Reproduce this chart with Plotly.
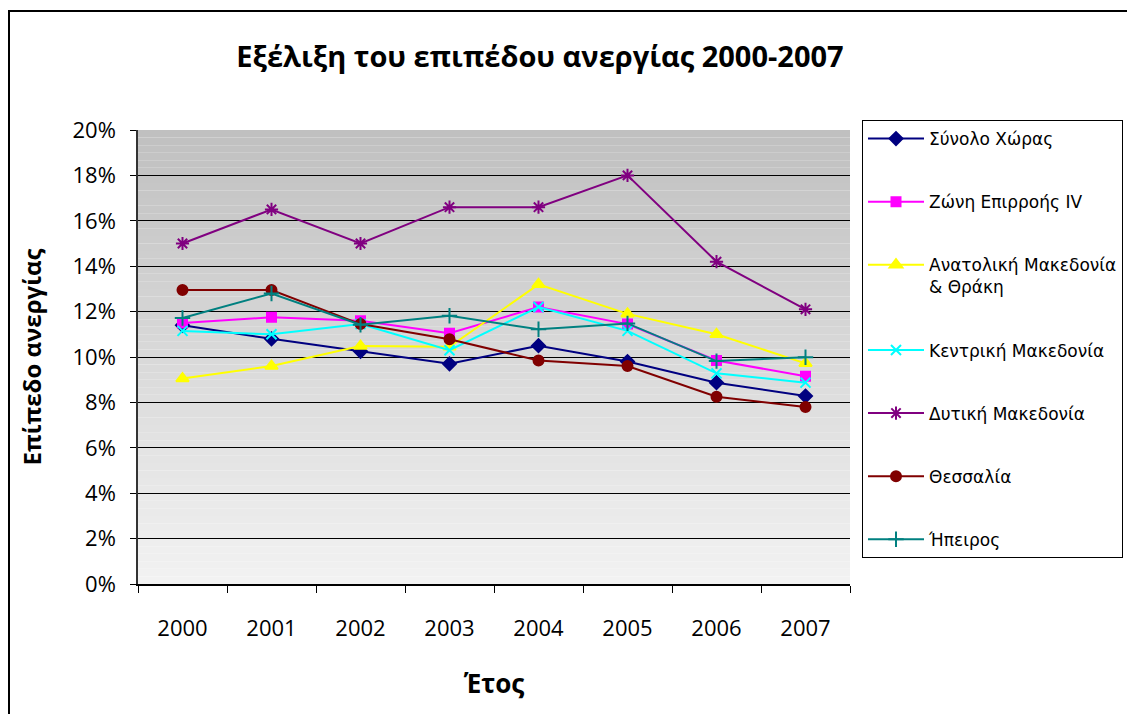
import plotly.graph_objects as go

years = ["2000", "2001", "2002", "2003", "2004", "2005", "2006", "2007"]
synolo = [11.4, 10.8, 10.25, 9.7, 10.5, 9.8, 8.87, 8.28]
zoni = [11.5, 11.75, 11.6, 11.05, 12.2, 11.45, 9.85, 9.15]
anatoliki = [9.05, 9.6, 10.48, 10.45, 13.2, 11.9, 11.0, 9.72]
kentriki = [11.15, 11.0, 11.45, 10.3, 12.2, 11.15, 9.28, 8.87]
dytiki = [15.0, 16.5, 15.0, 16.6, 16.6, 18.0, 14.2, 12.1]
thessalia = [12.95, 12.95, 11.45, 10.78, 9.85, 9.6, 8.25, 7.8]
ipeiros = [11.72, 12.8, 11.42, 11.82, 11.22, 11.48, 9.82, 9.99]

series = [
    ("Σύνολο Χώρας", synolo, "#000080", "diamond", 10),
    ("Ζώνη Επιρροής IV", zoni, "#FF00FF", "square", 9),
    ("Ανατολική Μακεδονία<br>& Θράκη", anatoliki, "#FFFF00", "triangle-up", 11),
    ("Κεντρική Μακεδονία", kentriki, "#00FFFF", "x-thin-open", 10),
    ("Δυτική Μακεδονία", dytiki, "#800080", "asterisk-open", 11),
    ("Θεσσαλία", thessalia, "#800000", "circle", 10),
    ("Ήπειρος", ipeiros, "#008080", "cross-thin-open", 11),
]

fig = go.Figure()
for i, (name, vals, col, sym, sz) in enumerate(series):
    fig.add_trace(go.Scatter(
        x=years, y=vals, name=name, mode="lines+markers",
        legendgroup=f"g{i}",
        line=dict(color=col, width=2),
        marker=dict(symbol=sym, size=sz, color=col, line=dict(color=col, width=2)),
    ))

W, H = 1127, 706
L, T, PW, PH = 130, 122, 712, 454

# gradient background
shapes = []
n = 60
for k in range(n):
    t = k / (n - 1)
    v = int(round(242 - (242 - 192) * t))
    shapes.append(dict(type="rect", xref="x domain", yref="y domain",
                       x0=0, x1=1, y0=k / n, y1=(k + 1) / n,
                       fillcolor=f"rgb({v},{v},{v})", line=dict(width=0),
                       layer="below"))
# outer chart border
shapes.append(dict(type="rect", xref="paper", yref="paper",
                   x0=(1 - L) / PW, x1=(W + 20 - L) / PW,
                   y0=(T + PH - (H + 20)) / PH, y1=(T + PH - 3) / PH,
                   line=dict(color="black", width=2), fillcolor="rgba(0,0,0,0)",
                   layer="above"))

fig.update_layout(
    width=W, height=H,
    margin=dict(l=L, r=W - L - PW, t=T, b=H - T - PH),
    paper_bgcolor="white", plot_bgcolor="white",
    shapes=shapes,
    title=dict(text="<b>Εξέλιξη του επιπέδου ανεργίας 2000-2007</b>",
               x=532 / W, xanchor="center", y=1 - 49 / H, yanchor="middle",
               font=dict(family="Open Sans", size=29, color="black")),
    font=dict(family="Open Sans", color="black"),
    legend=dict(
        xref="container", x=854 / W, xanchor="left",
        y=(584 - 120) / 454, yanchor="top",
        bordercolor="black", borderwidth=1, bgcolor="white",
        font=dict(family="DejaVu Sans", size=17, color="black"),
        tracegroupgap=38, valign="top", itemwidth=56,
        maxheight=700,
    ),
    xaxis=dict(
        type="category", range=[-0.5, 7.5], tickson="boundaries",
        ticks="outside", ticklen=7, tickcolor="black",
        showline=True, linecolor="black", linewidth=1.5,
        showgrid=False, tickfont=dict(size=22, family="Open Sans"),
        ticklabelstandoff=24,
        title=dict(text="<b>Έτος</b>", font=dict(size=26, family="Open Sans"), standoff=34),
    ),
    yaxis=dict(
        range=[0, 20], dtick=2, ticksuffix="%",
        ticks="outside", ticklen=6, tickcolor="black",
        showline=True, linecolor="#333", linewidth=1.5,
        showgrid=True, gridcolor="black", gridwidth=1,
        zeroline=False, tickfont=dict(size=22, family="Open Sans"),
        ticklabelstandoff=10,
        title=dict(text="<b>Επίπεδο ανεργίας</b>", font=dict(size=24, family="Open Sans"), standoff=24),
    ),
)

fig.write_html("out.html")
